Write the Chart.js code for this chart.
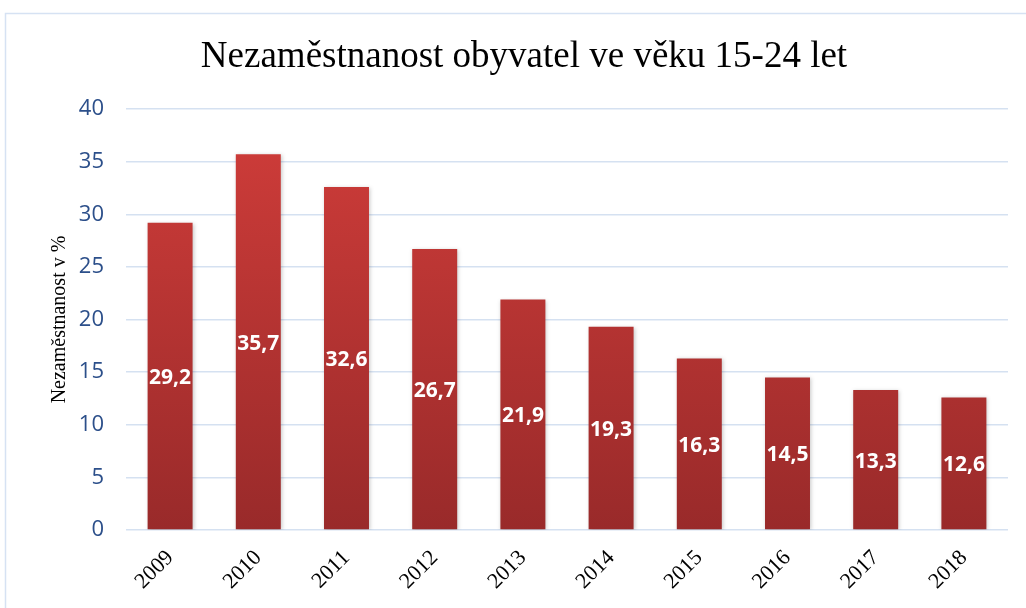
<!DOCTYPE html>
<html>
<head>
<meta charset="utf-8">
<script src="https://cdn.jsdelivr.net/npm/chart.js@4"></script>
<style>
	html, body { margin: 0; padding: 0; background: #fff; overflow: hidden; }
	#wrap { position: relative; width: 1026px; height: 608px; }
</style>
</head>
<body>
<div id="wrap"><canvas id="chart" width="1026" height="608"></canvas></div>
<script>
// Nezaměstnanost 15-24 — bar chart

const years = ['2009', '2010', '2011', '2012', '2013', '2014', '2015', '2016', '2017', '2018'];
const rates = [29.2, 35.7, 32.6, 26.7, 21.9, 19.3, 16.3, 14.5, 13.3, 12.6];
const yTicks = [0, 5, 10, 15, 20, 25, 30, 35, 40];

const TITLE = 'Nezaměstnanost obyvatel ve věku 15-24 let';
const Y_TITLE = 'Nezaměstnanost v %';

const SERIF = "'Liberation Serif', 'Times New Roman', serif";
const SANS = "'Open Sans', 'Noto Sans', sans-serif";

const C = { barTop: '#d13d3a', barBot: '#992a2a', grid: '#d5e1f1', tick: '#2c4f8a', frame: '#d6e2f3' };

// frame, title, shadow + value labels
const decor = {
	id: 'decor',
	beforeDraw(chart) {
		const ctx = chart.ctx;
		ctx.save();
		ctx.strokeStyle = C.frame;
		ctx.lineWidth = 1.5;
		ctx.strokeRect(5.5, 13.5, 1100, 700);
		ctx.fillStyle = '#000';
		ctx.font = '37px ' + SERIF;
		ctx.textAlign = 'center';
		ctx.textBaseline = 'alphabetic';
		ctx.fillText(TITLE, 524, 67);
		ctx.restore();
	},
	beforeDatasetsDraw(chart) {
		const ctx = chart.ctx;
		ctx.save();
		ctx.shadowColor = 'rgba(0,0,0,0.22)';
		ctx.shadowBlur = 4;
		ctx.shadowOffsetX = 1;
		ctx.shadowOffsetY = 1;
	},
	afterDatasetsDraw(chart) {
		const ctx = chart.ctx;
		ctx.restore();
		const meta = chart.getDatasetMeta(0);
		ctx.save();
		ctx.fillStyle = '#fff';
		ctx.font = 'bold 21px ' + SANS;
		ctx.textAlign = 'center';
		ctx.textBaseline = 'middle';
		meta.data.forEach((bar, i) => {
			const mid = (bar.y + bar.base) / 2;
			ctx.fillText(rates[i].toFixed(1).replace('.', ','), bar.x, mid + 2);
		});
		ctx.restore();
	}
};

const ctx = document.getElementById('chart');
new Chart(ctx, {
	type: 'bar',
	data: {
		labels: years,
		datasets: [{
			data: rates,
			backgroundColor: c => {
				const a = c.chart.chartArea;
				if (!a) return C.barTop;
				const g = c.chart.ctx.createLinearGradient(0, a.top, 0, a.bottom);
				g.addColorStop(0, C.barTop);
				g.addColorStop(1, C.barBot);
				return g;
			},
			borderWidth: 0,
			categoryPercentage: 1,
			barPercentage: 0.51
		}]
	},
	options: {
		responsive: false,
		animation: false,
		devicePixelRatio: 1,
		layout: { padding: { left: 0, right: 18, top: 109, bottom: 0 } },
		plugins: { legend: { display: false }, title: { display: false }, tooltip: { enabled: false } },
		scales: {
			x: {
				grid: { display: false, drawTicks: false },
				border: { display: false },
				ticks: { color: '#000', font: { family: SERIF, size: 22 }, minRotation: 45, maxRotation: 45, padding: 15 },
				afterFit: s => { s.height = 78; }
			},
			y: {
				min: 0, max: 40,
				afterBuildTicks: s => { s.ticks = yTicks.map(v => ({ value: v })); },
				grid: { color: C.grid, lineWidth: 1.5, drawTicks: false },
				border: { display: false },
				ticks: { color: C.tick, font: { family: SANS, size: 22 }, padding: 22 },
				title: { display: true, text: Y_TITLE, color: '#000', font: { family: SERIF, size: 20 }, padding: { top: 48, bottom: 0 } },
				afterFit: s => { s.width = 126; }
			}
		}
	},
	plugins: [decor]
});
</script>
</body>
</html>
